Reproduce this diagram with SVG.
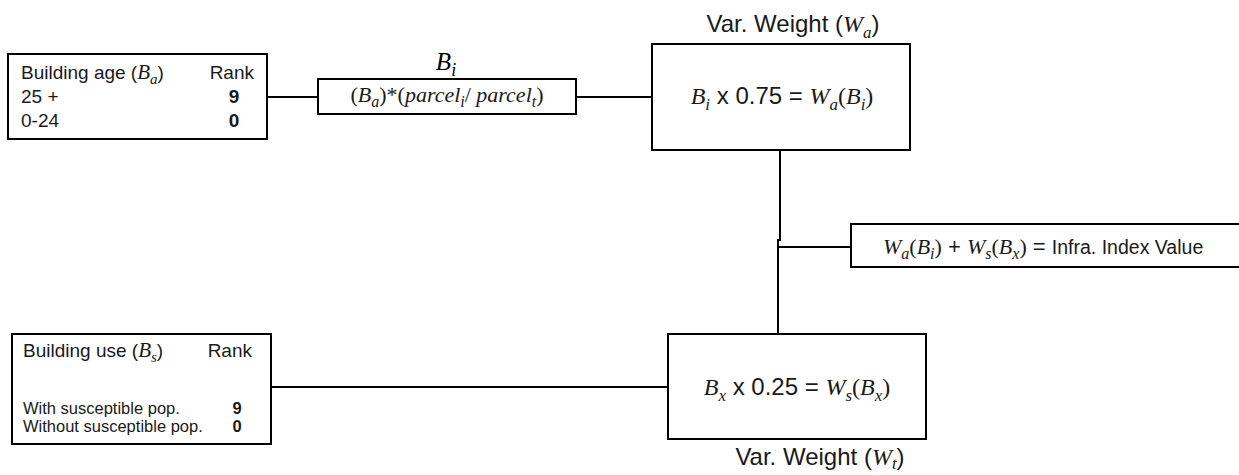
<svg xmlns="http://www.w3.org/2000/svg" width="1239" height="475" viewBox="0 0 1239 475">
  <style>
    .box { fill: #ffffff; stroke: #000000; stroke-width: 2; }
    .wire { fill: none; stroke: #000000; stroke-width: 2; }
    .sans { font-family: "Liberation Sans", Arial, sans-serif; fill: #1a1a1a; }
    .math { font-family: "Liberation Serif", "Times New Roman", serif; font-style: italic; }
    .up { font-family: "Liberation Serif", "Times New Roman", serif; font-style: normal; }
    .b { font-weight: bold; }
  </style>

  <!-- connectors -->
  <g id="connectors">
    <line class="wire" x1="267" y1="97" x2="318" y2="97"/>
    <line class="wire" x1="576" y1="97" x2="652" y2="97"/>
    <polyline class="wire" points="780,150 780,240 778,240 778,334"/>
    <line class="wire" x1="778" y1="247" x2="851" y2="247"/>
    <line class="wire" x1="271" y1="387" x2="668" y2="387"/>
  </g>

  <!-- building age ranking table -->
  <g id="building-age">
    <rect class="box" x="8" y="54" width="259" height="85"/>
    <text class="sans" x="21" y="79" font-size="19">Building age (<tspan class="math" font-size="21">B</tspan><tspan class="math" font-size="15" dy="5">a</tspan><tspan dy="-5">)</tspan></text>
    <text class="sans" x="254" y="79" font-size="19" text-anchor="end">Rank</text>
    <text class="sans" x="21" y="103" font-size="19">25 +</text>
    <text class="sans b" x="234" y="103" font-size="19" text-anchor="middle">9</text>
    <text class="sans" x="21" y="127" font-size="19">0-24</text>
    <text class="sans b" x="234" y="127" font-size="19" text-anchor="middle">0</text>
  </g>

  <!-- parcel share formula -->
  <g id="parcel-share">
    <text class="math" x="446" y="70" font-size="25" text-anchor="middle">B<tspan font-size="18" dy="6">i</tspan></text>
    <rect class="box" x="318" y="79" width="258" height="35"/>
    <text x="447" y="102" font-size="22" text-anchor="middle" fill="#1a1a1a"><tspan class="up">(</tspan><tspan class="math">B</tspan><tspan class="math" font-size="16" dy="5">a</tspan><tspan class="up" dy="-5">)*(</tspan><tspan class="math">parcel</tspan><tspan class="math" font-size="16" dy="5">i</tspan><tspan class="up" dy="-5">/ </tspan><tspan class="math">parcel</tspan><tspan class="math" font-size="16" dy="5">t</tspan><tspan class="up" dy="-5">)</tspan></text>
  </g>

  <!-- building age weight -->
  <g id="weight-age">
    <text class="sans" x="793" y="32" font-size="24" text-anchor="middle">Var. Weight (<tspan class="math">W</tspan><tspan class="math" font-size="17" dy="6">a</tspan><tspan dy="-6">)</tspan></text>
    <rect class="box" x="652" y="44" width="258" height="106"/>
    <text class="sans" x="782" y="104" font-size="24" text-anchor="middle"><tspan class="math">B</tspan><tspan class="math" font-size="17" dy="6">i</tspan><tspan dy="-6"> x 0.75 = </tspan><tspan class="math">W</tspan><tspan class="math" font-size="17" dy="6">a</tspan><tspan class="up" dy="-6">(</tspan><tspan class="math">B</tspan><tspan class="math" font-size="17" dy="6">i</tspan><tspan class="up" dy="-6">)</tspan></text>
  </g>

  <!-- combined index -->
  <g id="index-value">
    <rect class="box" x="851" y="224" width="400" height="43"/>
    <text class="sans" x="883" y="254" font-size="22"><tspan class="math">W</tspan><tspan class="math" font-size="16" dy="5">a</tspan><tspan class="up" dy="-5">(</tspan><tspan class="math">B</tspan><tspan class="math" font-size="16" dy="5">i</tspan><tspan class="up" dy="-5">)</tspan> + <tspan class="math">W</tspan><tspan class="math" font-size="16" dy="5">s</tspan><tspan class="up" dy="-5">(</tspan><tspan class="math">B</tspan><tspan class="math" font-size="16" dy="5">x</tspan><tspan class="up" dy="-5">)</tspan> = <tspan font-size="19.5">Infra. Index Value</tspan></text>
  </g>

  <!-- building use ranking table -->
  <g id="building-use">
    <rect class="box" x="12" y="334" width="259" height="110"/>
    <text class="sans" x="23" y="357" font-size="19">Building use (<tspan class="math" font-size="21">B</tspan><tspan class="math" font-size="15" dy="5">s</tspan><tspan dy="-5">)</tspan></text>
    <text class="sans" x="252" y="357" font-size="19" text-anchor="end">Rank</text>
    <text class="sans" x="23" y="414" font-size="16.5">With susceptible pop.</text>
    <text class="sans b" x="237" y="414" font-size="16.5" text-anchor="middle">9</text>
    <text class="sans" x="23" y="432" font-size="16.5">Without susceptible pop.</text>
    <text class="sans b" x="237" y="432" font-size="16.5" text-anchor="middle">0</text>
  </g>

  <!-- building use weight -->
  <g id="weight-use">
    <rect class="box" x="668" y="334" width="258" height="105"/>
    <text class="sans" x="797" y="395" font-size="24" text-anchor="middle"><tspan class="math">B</tspan><tspan class="math" font-size="17" dy="6">x</tspan><tspan dy="-6"> x 0.25 = </tspan><tspan class="math">W</tspan><tspan class="math" font-size="17" dy="6">s</tspan><tspan class="up" dy="-6">(</tspan><tspan class="math">B</tspan><tspan class="math" font-size="17" dy="6">x</tspan><tspan class="up" dy="-6">)</tspan></text>
    <text class="sans" x="820" y="465" font-size="24" text-anchor="middle">Var. Weight (<tspan class="math">W</tspan><tspan class="math" font-size="17" dy="4">t</tspan><tspan dy="-4">)</tspan></text>
  </g>
</svg>
